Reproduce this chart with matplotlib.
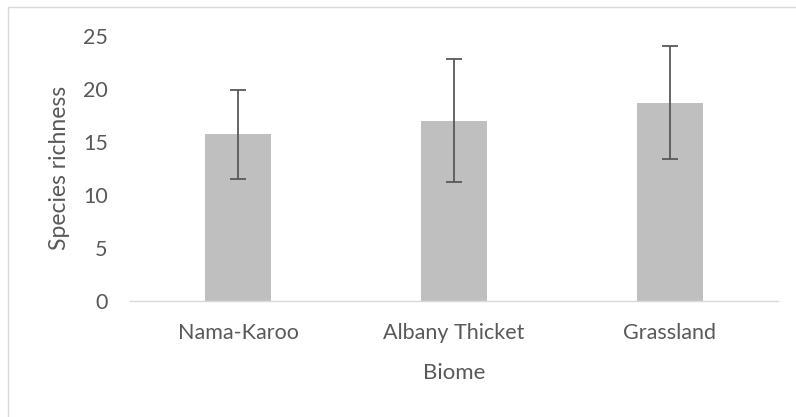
import matplotlib.pyplot as plt
from matplotlib.patches import Rectangle

biomes = ['Nama-Karoo', 'Albany Thicket', 'Grassland']
richness = [15.7, 17.0, 18.7]
richness_sd = [4.2, 5.8, 5.3]

plt.rcParams['font.family'] = ['Lato', 'DejaVu Sans']
text_col = '#595959'

fig = plt.figure(figsize=(7.96, 4.17), dpi=100)
# chart frame (only top/left edges fall inside the canvas)
fig.patches.append(Rectangle((8 / 796, -0.1), 1.2, 1 - 7 / 417 + 0.1,
                             transform=fig.transFigure, fill=False,
                             edgecolor='#d9d9d9', linewidth=1.0))

ax = fig.add_axes([130 / 796, 1 - 301 / 417, 648 / 796, 265.3 / 417])
x = range(len(biomes))
ax.bar(x, richness, width=0.31, color='#bfbfbf', zorder=2)
ax.errorbar(x, richness, yerr=richness_sd, fmt='none', ecolor='#595959',
            elinewidth=1.3, capsize=5.5, capthick=1.3, zorder=3)

ax.set_xlim(-0.5, 2.5)
ax.set_ylim(0, 25)
ax.set_yticks([0, 5, 10, 15, 20, 25])
ax.set_xticks(list(x))
ax.set_xticklabels(biomes)
for s in ['top', 'right', 'left']:
    ax.spines[s].set_visible(False)
ax.spines['bottom'].set_color('#d9d9d9')
ax.spines['bottom'].set_linewidth(1.0)
ax.tick_params(axis='both', length=0, labelsize=15.5, colors=text_col)
ax.tick_params(axis='y', pad=16)
ax.tick_params(axis='x', pad=16)
ax.set_xlabel('Biome', fontsize=16, color=text_col, labelpad=14)
ax.set_ylabel('Species richness', fontsize=16.5, color=text_col, labelpad=9.5)

fig.savefig('out.png', dpi=100)
